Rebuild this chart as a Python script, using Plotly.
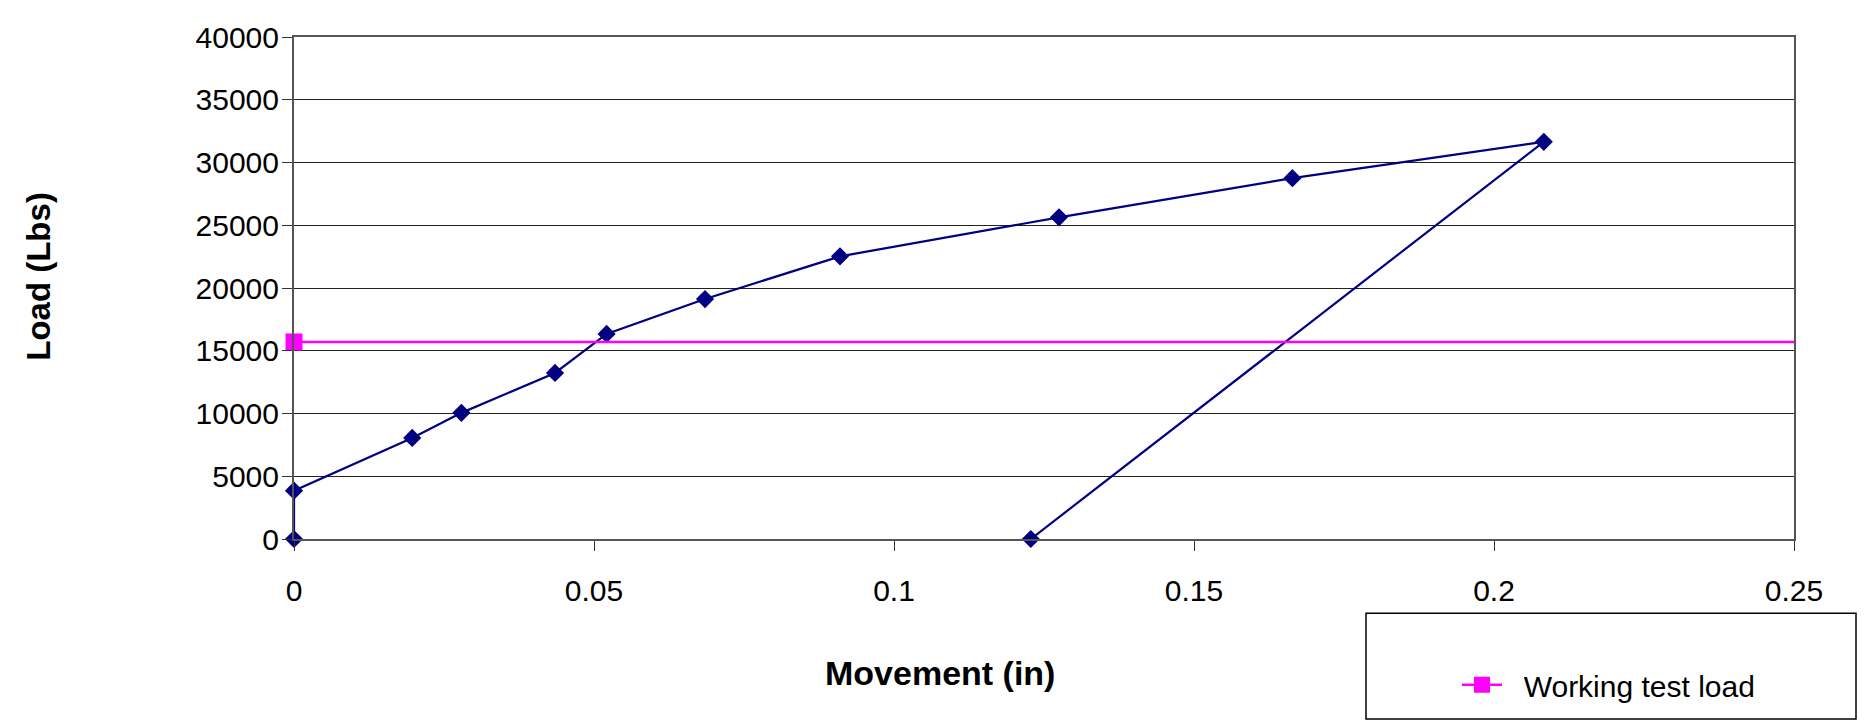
import plotly.graph_objects as go

# Data
movement_in = [0, 0, 0.0197, 0.0279, 0.0435, 0.0521, 0.0685, 0.0910, 0.1275, 0.1664, 0.2083, 0.1228]
load_lbs = [0, 3850, 8050, 10050, 13230, 16340, 19120, 22520, 25630, 28750, 31650, 0]

working_x = [0, 0.25]
working_load = [15700, 15700]

x_ticks = [0, 0.05, 0.1, 0.15, 0.2, 0.25]
x_tick_labels = ["0", "0.05", "0.1", "0.15", "0.2", "0.25"]
y_ticks = [0, 5000, 10000, 15000, 20000, 25000, 30000, 35000, 40000]
y_tick_labels = [str(v) for v in y_ticks]

FONT = "Liberation Sans, Arial, sans-serif"
W, H = 1865, 728
OFF = 8  # page body margin
L, T = 286, 18
PW, PH = 1500, 513
R = W - L - PW
B = H - T - PH


def sx(X):
    return (X - OFF - L) / PW


def sy(Y):
    return (T + PH - (Y - OFF)) / PH


fig = go.Figure()

fig.add_trace(go.Scatter(
    x=movement_in, y=load_lbs, mode="lines+markers",
    line=dict(color="#000080", width=2.2),
    marker=dict(symbol="diamond", size=14, color="#000080"),
    showlegend=False, cliponaxis=False,
))

fig.add_trace(go.Scatter(
    x=working_x, y=working_load, mode="lines+markers",
    name="\u00a0\u00a0Working test load",
    line=dict(color="#FF00FF", width=2.4),
    marker=dict(symbol="square", size=17, color=["#FF00FF", "rgba(0,0,0,0)"]),
    cliponaxis=False,
))

fig.update_layout(
    width=W, height=H,
    margin=dict(l=L, r=R, t=T, b=B),
    paper_bgcolor="white", plot_bgcolor="white",
    font=dict(family=FONT, color="black"),
    showlegend=True,
    legend=dict(
        x=sx(1457), y=sy(688), xanchor="left", yanchor="middle",
        font=dict(size=30, family=FONT, color="black"),
        bgcolor="rgba(0,0,0,0)", borderwidth=0,
        itemwidth=40,
    ),
    xaxis=dict(
        range=[0, 0.25], tickvals=x_ticks, ticktext=x_tick_labels,
        showgrid=False, zeroline=False,
        showline=True, linecolor="#555", linewidth=2, mirror=True,
        ticks="outside", ticklen=10, tickcolor="#333", tickwidth=1,
        tickfont=dict(size=30, family=FONT, color="black"),
        ticklabelstandoff=14,
    ),
    yaxis=dict(
        range=[0, 40000], tickvals=y_ticks, ticktext=y_tick_labels,
        showgrid=True, gridcolor="#222", gridwidth=1, zeroline=False,
        showline=True, linecolor="#555", linewidth=2, mirror=True,
        ticks="outside", ticklen=10, tickcolor="#333", tickwidth=1,
        tickfont=dict(size=30, family=FONT, color="black"),
        ticklabelstandoff=-3,
    ),
    shapes=[dict(
        type="rect", xref="paper", yref="paper",
        x0=sx(1366), x1=sx(1856), y0=sy(723), y1=sy(615),
        line=dict(color="black", width=1.5), fillcolor="rgba(0,0,0,0)",
        layer="above",
    )],
    annotations=[
        dict(text="<b>Load (Lbs)</b>", xref="paper", yref="paper",
             x=sx(39), y=sy(270), showarrow=False, textangle=-90,
             font=dict(size=33, family=FONT, color="black"),
             xanchor="center", yanchor="middle"),
        dict(text="<b>Movement (in)</b>", xref="paper", yref="paper",
             x=sx(940), y=sy(676), showarrow=False,
             font=dict(size=34, family=FONT, color="black"),
             xanchor="center", yanchor="middle"),
    ],
)

fig.write_html("out.html")
